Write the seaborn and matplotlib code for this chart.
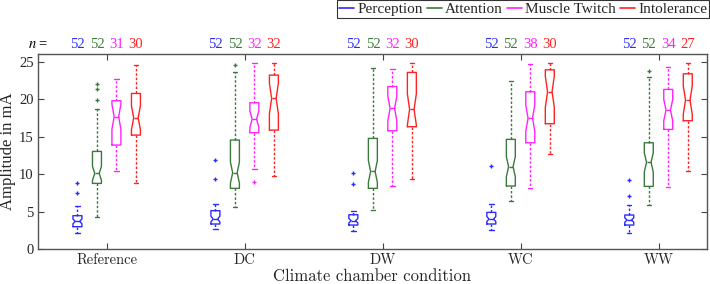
import numpy as np
import matplotlib
matplotlib.use("Agg")
import matplotlib.pyplot as plt
import matplotlib.transforms as mtransforms
from matplotlib.lines import Line2D
import seaborn as sns

# ---------------- data ----------------
conditions = ["Reference", "DC", "DW", "WC", "WW"]
series = ["Perception", "Attention", "Muscle Twitch", "Intolerance"]

# Perception
perc_whislo = [2.18, 2.67, 2.40, 2.54, 2.09]
perc_q1 = [2.98, 3.34, 3.20, 3.34, 3.20]
perc_med = [3.69, 4.00, 3.78, 4.00, 3.87]
perc_q3 = [4.45, 5.12, 4.58, 4.89, 4.54]
perc_whishi = [5.74, 6.00, 5.03, 6.00, 5.92]
perc_fliers = [[7.52, 8.81], [9.39, 11.88], [8.67, 10.10], [11.08], [7.03, 9.25]]
perc_n = [52, 52, 52, 52, 52]

# Attention
att_whislo = [4.31, 5.56, 5.20, 6.36, 5.92]
att_q1 = [8.76, 8.10, 8.10, 8.41, 8.36]
att_med = [10.10, 10.19, 10.36, 10.99, 11.57]
att_q3 = [13.03, 14.55, 14.77, 14.64, 14.19]
att_whishi = [18.68, 23.67, 24.20, 22.38, 23.00]
att_fliers = [[19.93, 21.35, 22.00], [24.60], [], [], [23.80]]
att_n = [52, 52, 52, 52, 52]

# Muscle Twitch
mt_whislo = [10.45, 10.68, 8.45, 8.10, 8.32]
mt_q1 = [13.88, 15.53, 15.79, 14.19, 15.97]
mt_med = [17.66, 17.35, 18.77, 17.48, 18.55]
mt_q3 = [19.80, 19.53, 21.70, 21.00, 21.31]
mt_whishi = [22.69, 24.87, 23.98, 24.64, 24.24]
mt_fliers = [[], [8.99], [], [], []]
mt_n = [31, 32, 32, 38, 34]

# Intolerance
int_whislo = [8.81, 9.70, 9.30, 12.63, 10.45]
int_q1 = [15.21, 15.88, 16.33, 16.73, 17.13]
int_med = [17.53, 20.11, 18.64, 21.00, 19.88]
int_q3 = [20.77, 23.22, 23.58, 23.93, 23.40]
int_whishi = [24.60, 24.87, 24.87, 24.87, 24.87]
int_fliers = [[], [], [], [], []]
int_n = [30, 32, 30, 30, 27]

colors = ["#2b2bff", "#3a7a3a", "#ff22ff", "#ff2222"]

table = [
    (perc_whislo, perc_q1, perc_med, perc_q3, perc_whishi, perc_fliers, perc_n),
    (att_whislo, att_q1, att_med, att_q3, att_whishi, att_fliers, att_n),
    (mt_whislo, mt_q1, mt_med, mt_q3, mt_whishi, mt_fliers, mt_n),
    (int_whislo, int_q1, int_med, int_q3, int_whishi, int_fliers, int_n),
]

# ---------------- style ----------------
sns.set_theme(style="ticks")
plt.rcParams["font.family"] = ["Liberation Serif", "DejaVu Serif"]
plt.rcParams["mathtext.fontset"] = "stix"

fig = plt.figure(figsize=(7.10, 2.84), dpi=100)
ax = fig.add_axes([0.0535, 0.1232, 0.9418, 0.6856])

offsets = [-0.212, -0.0705, 0.0705, 0.212]
group_x = np.arange(len(conditions))
trans = mtransforms.blended_transform_factory(ax.transData, ax.transAxes)

for si, (wlo, q1, med, q3, whi, fl, n) in enumerate(table):
    stats = []
    for gi in range(len(conditions)):
        iqr = q3[gi] - q1[gi]
        half = 1.57 * iqr / np.sqrt(n[gi])
        stats.append(dict(med=med[gi], q1=q1[gi], q3=q3[gi],
                          whislo=wlo[gi], whishi=whi[gi],
                          cilo=med[gi] - half, cihi=med[gi] + half,
                          fliers=np.array(fl[gi])))
    c = colors[si]
    ax.bxp(stats, positions=group_x + offsets[si], widths=0.065,
           capwidths=0.032, shownotches=True, manage_ticks=False,
           boxprops=dict(color=c, linewidth=1.0),
           whiskerprops=dict(color=c, linewidth=1.0, linestyle=(0, (1.8, 1.4))),
           capprops=dict(color=c, linewidth=1.0),
           medianprops=dict(color=c, linewidth=1.0),
           flierprops=dict(marker="+", markersize=3, markeredgecolor=c,
                           markeredgewidth=1.0, linestyle="none"))
    # counts above the axes
    for gi in range(len(conditions)):
        ax.text(group_x[gi] + offsets[si], 1.05, str(n[gi]), transform=trans,
                ha="center", va="center", color=c, fontsize=10.5)

ax.text(0.0, 1.05, r"$n$ =", transform=ax.transAxes, ha="center", va="center",
        fontsize=10.5, color="black")

ax.set_xlim(-0.498, 4.349)
ax.set_ylim(0, 26)
ax.set_yticks([0, 5, 10, 15, 20, 25])
ax.set_xticks(group_x)
ax.set_xticklabels(conditions, fontfamily="cmr10", fontsize=11)
ax.tick_params(axis="both", direction="in", top=True, right=True,
               length=4, width=0.8, color="#444444", labelsize=10.5, pad=3)
for sp in ax.spines.values():
    sp.set_color("#555555")
    sp.set_linewidth(1.0)
ax.set_ylabel("Amplitude in mA", fontsize=12, labelpad=2)
ax.set_xlabel("Climate chamber condition", fontfamily="cmr10", fontsize=12, labelpad=1)

handles = [Line2D([0], [0], color=c, linewidth=1.2) for c in colors]
leg = fig.legend(handles, series, loc="upper right", bbox_to_anchor=(0.999, 1.0),
                 ncol=4, frameon=True, fancybox=False, edgecolor="black",
                 fontsize=11, handlelength=1.0, handletextpad=0.2,
                 columnspacing=0.25, borderpad=0.15, borderaxespad=0.0)
leg.get_frame().set_linewidth(0.8)

fig.savefig("out.png", dpi=100)
